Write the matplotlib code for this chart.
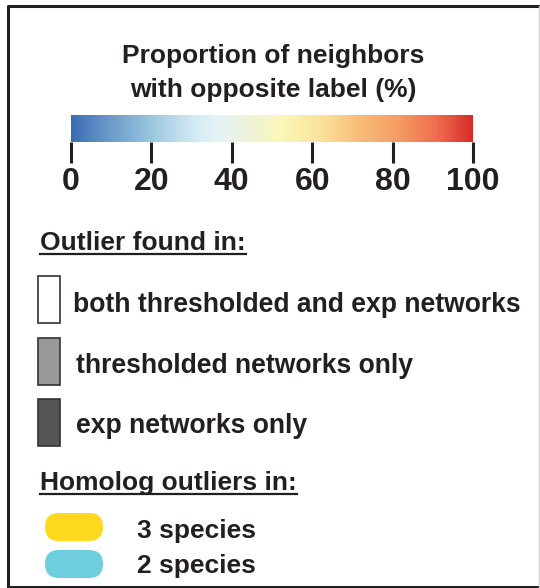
import matplotlib
matplotlib.use("Agg")
import matplotlib.pyplot as plt
from matplotlib.colors import LinearSegmentedColormap, Normalize
from matplotlib.cm import ScalarMappable
from matplotlib.patches import Rectangle, FancyBboxPatch

plt.rcParams['font.family'] = ['Liberation Sans', 'DejaVu Sans']
plt.rcParams['font.weight'] = 'bold'

# colour scale
title_lines = ["Proportion of neighbors", "with opposite label (%)"]
tick_values = [0, 20, 40, 60, 80, 100]
cmap_stops = [0.0, 0.1, 0.2, 0.3, 0.36, 0.45, 0.52, 0.62, 0.72, 0.82, 0.91, 1.0]
cmap_colors = ["#3a6db4", "#6d9ccb", "#9cc6df", "#cfe8f2", "#e4f3f7", "#eff3d8",
               "#faf7b8", "#f9e49a", "#f8bb76", "#f49a62", "#ee6e4e", "#d62b27"]

# outlier legend
outlier_title = "Outlier found in:"
outlier_labels = ["both thresholded and exp networks", "thresholded networks only",
                  "exp networks only"]
outlier_colors = ["#ffffff", "#999999", "#555555"]

# homolog legend
homolog_title = "Homolog outliers in:"
homolog_labels = ["3 species", "2 species"]
homolog_colors = ["#fcd91f", "#6ecedd"]

TXT = "#231f20"
W, H = 540, 588

fig = plt.figure(figsize=(W / 100, H / 100), dpi=100)
ax = fig.add_axes([0, 0, 1, 1])
ax.set_xlim(0, W)
ax.set_ylim(H, 0)
ax.axis("off")

# frame
ax.plot([8, 8, 539], [587, 6, 6], color="#231f20", lw=2.2, solid_capstyle="projecting")
ax.plot([8, 539], [586.5, 586.5], color="#231f20", lw=2.2)
ax.plot([539, 539], [6, 587], color="#cccccc", lw=1)

# title
for i, line in enumerate(title_lines):
    ax.text(273, 63 + 34 * i, line, ha="center", va="baseline", fontsize=19, color=TXT)

# colorbar
cmap = LinearSegmentedColormap.from_list("prop", list(zip(cmap_stops, cmap_colors)))
cax = fig.add_axes([71 / W, 1 - 142 / H, (473 - 71) / W, 27 / H])
cb = fig.colorbar(ScalarMappable(norm=Normalize(0, 100), cmap=cmap), cax=cax,
                  orientation="horizontal", ticks=tick_values)
cb.outline.set_visible(False)
cax.tick_params(length=15, width=2.2, pad=3, labelsize=23, colors=TXT)
for lbl in cax.get_xticklabels():
    lbl.set_fontweight("bold")

renderer = fig.canvas.get_renderer()


def underlined(x, y, s):
    t = ax.text(x, y, s, ha="left", va="baseline", fontsize=19, color=TXT)
    bb = t.get_window_extent(renderer).transformed(ax.transData.inverted())
    ax.plot([bb.x0, bb.x1], [y + 4, y + 4], color=TXT, lw=1.6)


# outlier section
underlined(40, 250, outlier_title)
box_tops = [276, 338, 399]
label_base = [312, 373, 433]
label_x = [73, 76, 76]
for top, base, lx, lab, col in zip(box_tops, label_base, label_x, outlier_labels, outlier_colors):
    ax.add_patch(Rectangle((38, top), 22, 47, facecolor=col, edgecolor="#333333", lw=1.2))
    ax.text(lx, base, lab, ha="left", va="baseline", fontsize=19.1, color=TXT)

# homolog section
underlined(40, 490, homolog_title)
pill_tops = [513, 550]
pill_base = [538, 573]
for top, base, lab, col in zip(pill_tops, pill_base, homolog_labels, homolog_colors):
    ax.add_patch(FancyBboxPatch((45, top), 58, 28,
                                boxstyle="round,pad=0,rounding_size=14",
                                facecolor=col, edgecolor="none"))
    ax.text(137, base, lab, ha="left", va="baseline", fontsize=19, color=TXT)

fig.savefig("out.png", dpi=100)
